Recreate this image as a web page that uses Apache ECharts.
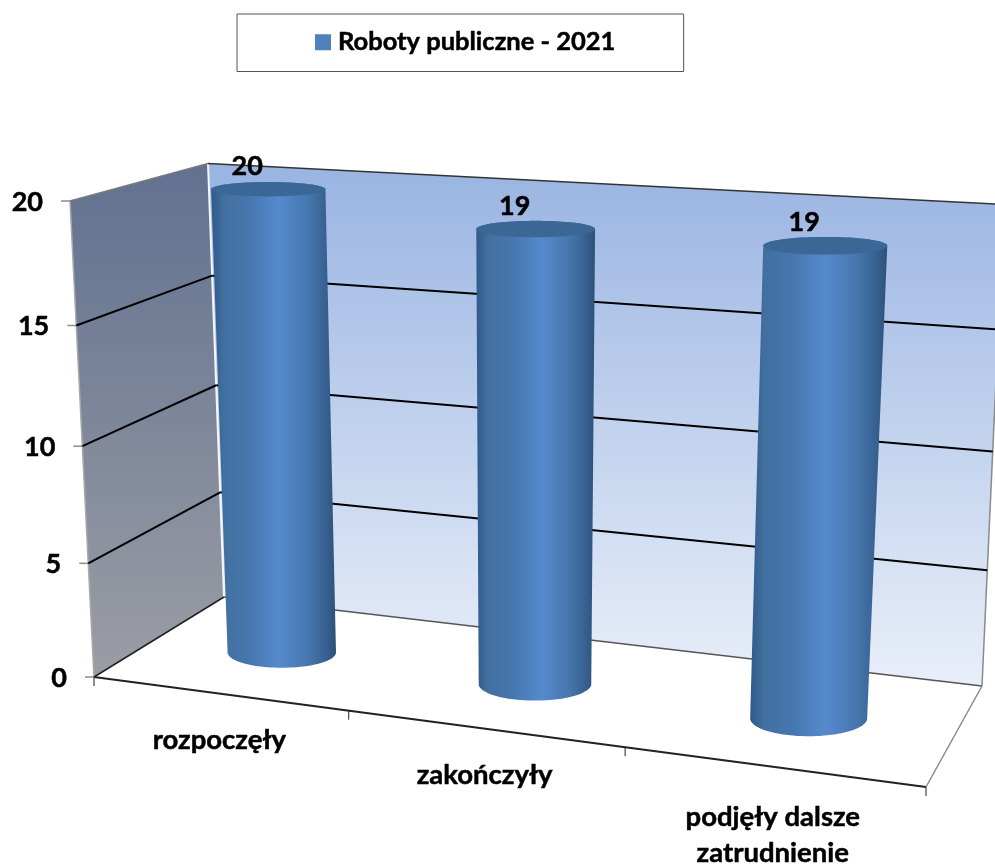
<!DOCTYPE html>
<html><head><meta charset="utf-8">
<style>html,body{margin:0;padding:0;background:#fff;overflow:hidden}#c{width:995px;height:866px}</style>
<script src="https://cdn.jsdelivr.net/npm/echarts@6/dist/echarts.min.js"></script>
</head><body><div id="c"></div>
<script>
const categories = ['rozpoczęły', 'zakończyły', 'podjęły dalsze\nzatrudnienie'];
const seriesName = 'Roboty publiczne - 2021';
const seriesValues = [20, 19, 19];
const tickValues = [0, 5, 10, 15, 20];

const FONT = 'Lato';
const backQuad = { bl: [224, 597], br: [982, 686], tr: [1004, 204.5], tl: [208, 163.5] };
const frontQuad = { bl: [94, 677], br: [926, 787], tr: [958, 251], tl: [70, 201] };

function quadMap(q) {
  const [x0, y0] = q.bl, [x1, y1] = q.br, [x2, y2] = q.tr, [x3, y3] = q.tl;
  const dx1 = x1 - x2, dx2 = x3 - x2, dx3 = x0 - x1 + x2 - x3;
  const dy1 = y1 - y2, dy2 = y3 - y2, dy3 = y0 - y1 + y2 - y3;
  const den = dx1 * dy2 - dx2 * dy1;
  const g = (dx3 * dy2 - dx2 * dy3) / den, h = (dx1 * dy3 - dx3 * dy1) / den;
  const a = x1 - x0 + g * x1, b = x3 - x0 + h * x3, d = y1 - y0 + g * y1, e = y3 - y0 + h * y3;
  return (s, u) => {
    const w = g * s + h * u + 1;
    return [(a * s + b * u + x0) / w, (d * s + e * u + y0) / w];
  };
}
const backMap = quadMap(backQuad), frontMap = quadMap(frontQuad);
// depth: 0 = back wall, 1 = front edge
function project(s, u, depth) {
  const b = backMap(s, u), f = frontMap(s, u);
  return [b[0] + (f[0] - b[0]) * depth, b[1] + (f[1] - b[1]) * depth];
}
function norm(api, params, idx, val) {
  const p = api.coord([idx, val]), c = params.coordSys;
  return [(p[0] - c.x) / c.width, (c.y + c.height - p[1]) / c.height];
}
function line(a, b, stroke, lineWidth) {
  return { type: 'line', silent: true, shape: { x1: a[0], y1: a[1], x2: b[0], y2: b[1] }, style: { stroke, lineWidth, fill: null } };
}
function poly(points, fill) {
  return { type: 'polygon', silent: true, shape: { points }, style: { fill } };
}
function label(text, x, y, align, size) {
  return { type: 'text', silent: true, style: { text, x, y, align: align, verticalAlign: 'middle', fontFamily: FONT, fontWeight: 'bold', fontSize: size, lineHeight: 36, fill: '#000', stroke: '#000', lineWidth: 0.5 } };
}
const vGrad = (c0, c1) => new echarts.graphic.LinearGradient(0, 0, 0, 1, [{ offset: 0, color: c0 }, { offset: 1, color: c1 }]);

function renderWalls() {
  const lw = [project(0, 1, 1), project(0, 1, 0), project(0, 0, 0), project(0, 0, 1)];
  const bw = [project(0, 1, 0), project(1, 1, 0), project(1, 0, 0), project(0, 0, 0)];
  return { type: 'group', children: [
    poly(lw, vGrad('#617190', '#9b9da4')),
    poly(bw, vGrad('#99b4e2', '#e9eff9')),
    line(bw[0], bw[3], '#f4f6fa', 2),
    line(lw[0], lw[3], '#a8a8a8', 1.5),
    line(lw[0], lw[1], '#7a7a7a', 1.5),
    line(bw[0], bw[1], '#333', 1.5),
    line(bw[1], bw[2], '#8a8a8a', 1.5),
    line(bw[3], bw[2], '#555', 1.5),
    line(lw[3], lw[2], '#222', 1.5),
    line(project(0, 0, 1), project(1, 0, 1), '#222', 2),
    line(bw[2], project(1, 0, 1), '#8a8a8a', 1.5),
    line(project(1, 0, 1), [project(1, 0, 1)[0], project(1, 0, 1)[1] + 9], '#222', 1)
  ] };
}
function renderTick(params, api) {
  const v = api.value(1), u = norm(api, params, 0, v)[1];
  const fr = project(0, u, 1), ba = project(0, u, 0), ri = project(1, u, 0);
  const kids = [line([fr[0] - 9, fr[1]], fr, '#8c8c8c', 1.5), label(String(v), fr[0] - 27, fr[1] + 1, 'right', 27)];
  if (v > 0 && v < 20) kids.push(line(fr, ba, '#000', 2), line(ba, ri, '#000', 2));
  return { type: 'group', children: kids };
}
function renderCategory(params, api) {
  const i = api.value(0), n = norm(api, params, i, 0);
  const half = 1 / (2 * categories.length);
  const t = project(n[0] - half, 0, 1), m = project(n[0], 0, 1);
  return { type: 'group', children: [
    line(t, [t[0], t[1] + 9], '#222', 1),
    label(categories[i], m[0] + 0.5, m[1] + (categories[i].indexOf('\n') >= 0 ? 68 : 47), 'center', 27.5)
  ] };
}
function renderCylinder(params, api) {
  const i = api.value(0), v = api.value(1);
  const nt = norm(api, params, i, v), uTop = nt[1], uBot = norm(api, params, i, 0)[1];
  const s = nt[0] + 0.0045 * (1 - nt[0]);
  const rs = 0.071 * (1 + 0.12 * (0.5 - s)), rz = 0.185, STEPS = 48;
  const ell = (u) => {
    const c = project(s, u, 0.5);
    const rx = (project(s + rs, u, 0.5)[0] - project(s - rs, u, 0.5)[0]) / 2;
    const ry = (project(s, u, 0.5 + rz)[1] - project(s, u, 0.5 - rz)[1]) / 2;
    return { c, rx, ry };
  };
  const T = ell(uTop), B = ell(uBot);
  const body = [[T.c[0] - T.rx, T.c[1]]];
  for (let k = 0; k <= STEPS; k++) {
    const a = Math.PI * k / STEPS;
    body.push([B.c[0] - B.rx * Math.cos(a), B.c[1] + B.ry * Math.sin(a)]);
  }
  body.push([T.c[0] + T.rx, T.c[1]]);
  for (let k = 0; k <= STEPS; k++) {
    const a = Math.PI * k / STEPS;
    body.push([T.c[0] + T.rx * Math.cos(a), T.c[1] - T.ry * Math.sin(a)]);
  }
  const cap = [];
  for (let k = 0; k < STEPS * 2; k++) {
    const a = Math.PI * k / STEPS;
    cap.push([T.c[0] + T.rx * Math.cos(a), T.c[1] + T.ry * Math.sin(a)]);
  }
  const bodyFill = new echarts.graphic.LinearGradient(0, 0, 1, 0, [
    { offset: 0, color: '#30598a' }, { offset: 0.1, color: '#41709f' }, { offset: 0.3, color: '#4676ae' },
    { offset: 0.55, color: '#568acd' }, { offset: 0.78, color: '#4676ae' }, { offset: 0.93, color: '#365f8e' }, { offset: 1, color: '#2d5177' }
  ]);
  return { type: 'group', children: [
    poly(body, bodyFill),
    poly(cap, '#3b6796'),
    label(String(v), T.c[0] - 21, T.c[1] - 23, 'center', 27)
  ] };
}

const chart = echarts.init(document.getElementById('c'), null, { renderer: 'canvas', width: 995, height: 866 });
chart.setOption({
  animation: false,
  backgroundColor: '#fff',
  grid: { left: 0, right: 0, top: 0, bottom: 0 },
  xAxis: { type: 'category', data: categories, show: false },
  yAxis: { type: 'value', min: 0, max: 20, interval: 5, show: false },
  legend: {
    left: 237, top: 14, data: [seriesName], icon: 'rect', itemWidth: 16, itemHeight: 16,
    padding: [15, 68, 16, 78], borderColor: '#555', borderWidth: 1, borderRadius: 0,
    selectedMode: false,
    textStyle: { fontFamily: FONT, fontWeight: 'bold', fontSize: 25.5, color: '#000', padding: [0, 0, 0, 2], textBorderColor: '#000', textBorderWidth: 0.5 }
  },
  series: [
    { type: 'custom', name: 'walls', coordinateSystem: 'cartesian2d', data: [[0, 0]], renderItem: renderWalls, silent: true },
    { type: 'custom', name: 'ticks', coordinateSystem: 'cartesian2d', data: tickValues.map(v => [0, v]), encode: { x: 0, y: 1 }, renderItem: renderTick, silent: true },
    { type: 'custom', name: 'categories', coordinateSystem: 'cartesian2d', data: categories.map((c, i) => [i, 0]), encode: { x: 0, y: 1 }, renderItem: renderCategory, silent: true },
    { type: 'custom', name: seriesName, coordinateSystem: 'cartesian2d', itemStyle: { color: '#4f81bd' }, data: seriesValues.map((v, i) => [i, v]), encode: { x: 0, y: 1 }, renderItem: renderCylinder, silent: true }
  ]
});
</script></body></html>
